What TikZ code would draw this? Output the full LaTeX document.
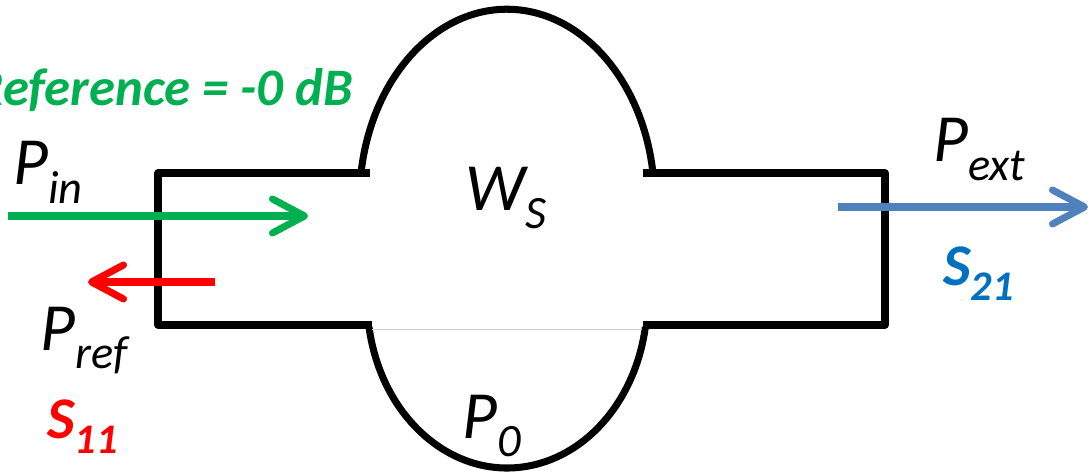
\documentclass[tikz,border=0pt]{standalone}
\usepackage{fontspec}
\setmainfont{Carlito}
\usetikzlibrary{arrows.meta}
\definecolor{refgreen}{HTML}{00B050}
\definecolor{sblue}{HTML}{0070C0}
\definecolor{extblue}{HTML}{4F81BD}
\newcommand{\bigsub}[2]{#1\raisebox{-13pt}{\fontsize{33}{33}\selectfont #2}}
\newcommand{\boldsub}[2]{#1\raisebox{-11pt}{\fontsize{30}{30}\selectfont #2}}

\begin{document}
\begin{tikzpicture}
[x=0.025cm,y=-0.025cm,
every node/.style={inner sep=0pt,font=\fontsize{48}{50}\selectfont\itshape},
wall/.style={line width=5pt,line join=round},
beam/.style={line width=5pt,-{Straight Barb[length=0.8cm,width=0.85cm,round]}},
sparam/.style={font=\fontsize{42}{44}\selectfont\bfseries\itshape}]
\useasboundingbox (0,0) rectangle (1091,472);
% waveguide with the cavity
\draw[wall] (370,173) -- (158,173) -- (158,325) -- (372,325);
\draw[wall] (643,173) -- (885,173) -- (885,325) -- (643,325);
\draw[wall] (361,173) arc[start angle=188.2,end angle=351.8,x radius=147.5,y radius=191];
\draw[wall] (369,327) arc[start angle=170.75,end angle=9.25,x radius=140,y radius=168];
\draw[black!18,line width=0.7pt] (372,329) -- (642,329);
% labels
\node[text=refgreen,font=\fontsize{37.5}{40}\selectfont\bfseries\itshape,anchor=base east] (refl) at (353,106) {Reference = -0 dB};
\node[anchor=base west] (pin) at (13,185) {\bigsub{P}{in}};
\node[anchor=base west] (ws) at (465,210) {\bigsub{W}{S}};
\node[anchor=base west] (pext) at (933,162) {\bigsub{P}{ext}};
\node[anchor=base west] (pref) at (40,350) {\bigsub{P}{ref}};
\node[anchor=base west] (p0) at (462,438) {\bigsub{P}{0}};
\node[sparam,text=sblue,anchor=base west] (s21) at (943,285) {\boldsub{S}{21}};
\node[sparam,text=red,anchor=base west] (s11) at (47,438) {\boldsub{S}{11}};
% power flows
\coordinate (inA) at (8,216);
\coordinate (inB) at (308,216);
\coordinate (refA) at (215,282);
\coordinate (refB) at (88,282);
\coordinate (extA) at (838,207);
\coordinate (extB) at (1088,207);
\draw[beam,refgreen] (inA) -- (inB);
\draw[beam,red] (refA) -- (refB);
\draw[beam,extblue] (extA) -- (extB);
\end{tikzpicture}
\end{document}
